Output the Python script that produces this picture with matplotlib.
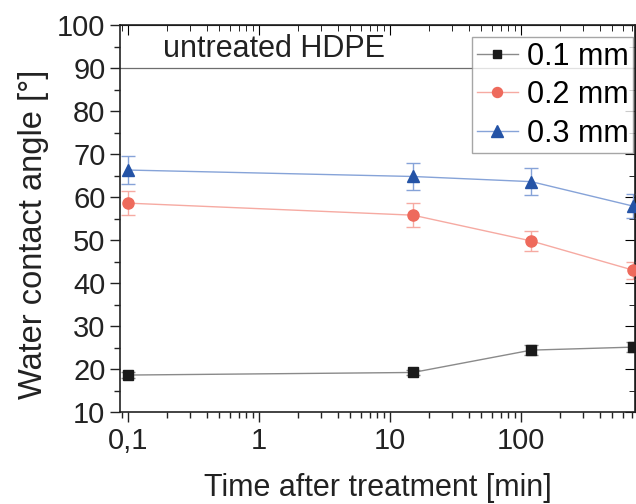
import matplotlib.pyplot as plt
import numpy as np
from matplotlib.ticker import FixedLocator, FixedFormatter, MultipleLocator, LogLocator, NullFormatter

plt.rcParams['font.family'] = ['Liberation Sans', 'DejaVu Sans']

time_min = [0.1, 15, 120, 720]
angle_01 = [18.6, 19.2, 24.4, 25.1]
err_01 = [0.6, 0.6, 1.2, 1.2]
angle_02 = [58.6, 55.8, 49.8, 43.0]
err_02 = [2.8, 2.8, 2.3, 2.0]
angle_03 = [66.3, 64.8, 63.6, 57.9]
err_03 = [3.3, 3.2, 3.2, 2.8]
labels = ["0.1 mm", "0.2 mm", "0.3 mm"]
untreated = 90

fig = plt.figure(figsize=(6.36, 5.04), dpi=100)
ax = fig.add_axes([0.1887, 0.1825, 0.81, 0.7675])

series = [
    (angle_01, err_01, 's', '#1a1a1a', '#8a8a8a', 7),
    (angle_02, err_02, 'o', '#ee6a5c', '#f6aaa2', 8),
    (angle_03, err_03, '^', '#2453a6', '#86a3d8', 9),
]
for (vals, errs, mk, mc, lc, ms), lab in zip(series, labels):
    ax.errorbar(time_min, vals, yerr=errs, fmt='none', ecolor=lc, elinewidth=1,
                capsize=5, capthick=1, zorder=2)
    ax.plot(time_min, vals, color=lc, lw=1, marker=mk, ms=ms, mfc=mc, mec=mc,
            label=lab, zorder=3)

ax.axhline(untreated, color='#6e6e6e', lw=0.9, zorder=1)
ax.text(0.186, 91, "untreated HDPE", fontsize=22, ha='left', va='bottom',
        color='#222222')

ax.set_xscale('log')
ax.set_xlim(0.087, 745)
ax.set_ylim(10, 100)

ax.xaxis.set_major_locator(FixedLocator([0.1, 1, 10, 100]))
ax.xaxis.set_major_formatter(FixedFormatter(["0,1", "1", "10", "100"]))
ax.xaxis.set_minor_locator(LogLocator(base=10, subs=np.arange(2, 10)))
ax.xaxis.set_minor_formatter(NullFormatter())
ax.yaxis.set_major_locator(MultipleLocator(10))
ax.yaxis.set_minor_locator(MultipleLocator(5))

ax.tick_params(which='both', direction='out', labelsize=21, width=1, colors='#222222')
ax.tick_params(which='major', length=7)
ax.tick_params(which='minor', length=4)

top = ax.secondary_xaxis('top')
top.set_xscale('log')
top.xaxis.set_major_locator(FixedLocator([0.1, 1, 10, 100]))
top.xaxis.set_minor_locator(LogLocator(base=10, subs=np.arange(2, 10)))
top.tick_params(which='both', direction='in', labeltop=False)
top.tick_params(which='major', length=7)
top.tick_params(which='minor', length=4)
right = ax.secondary_yaxis('right')
right.yaxis.set_major_locator(MultipleLocator(10))
right.yaxis.set_minor_locator(MultipleLocator(5))
right.tick_params(which='both', direction='in', labelright=False)
right.tick_params(which='major', length=7)
right.tick_params(which='minor', length=4)

for s in ax.spines.values():
    s.set_linewidth(1.2)
    s.set_color('#222222')

ax.set_xlabel("Time after treatment [min]", fontsize=22, labelpad=13,
              color='#222222')
ax.set_ylabel("Water contact angle [°]", fontsize=23.5, color='#222222')
ax.yaxis.set_label_coords(-0.138, 0.46)

leg = ax.legend(loc='upper left', bbox_to_anchor=(472 / 636, 1 - 37 / 504),
                bbox_transform=fig.transFigure, fontsize=22,
                frameon=True, fancybox=False, edgecolor='#909090',
                handlelength=1.35, handletextpad=0.3, borderpad=0.15,
                borderaxespad=0, labelspacing=0.28, markerscale=0.9)
leg.get_frame().set_linewidth(1)

fig.savefig("out.png", dpi=100)
